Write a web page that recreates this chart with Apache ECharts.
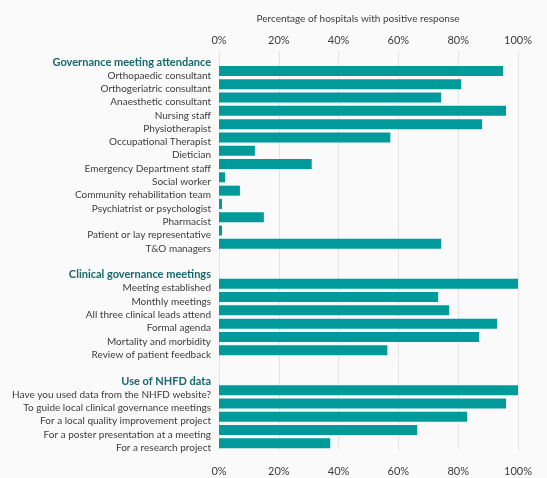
<!DOCTYPE html>
<html>
<head>
<meta charset="utf-8">
<script src="https://cdn.jsdelivr.net/npm/echarts@6/dist/echarts.min.js"></script>
<style>
  html, body { margin: 0; padding: 0; background: #fafafa; }
  #chart { width: 547px; height: 478px; }
</style>
</head>
<body>
<div id="chart"></div>
<script>
// section headers
const headers = ['Governance meeting attendance', 'Clinical governance meetings', 'Use of NHFD data'];

const attendance = [
    'Orthopaedic consultant', 'Orthogeriatric consultant', 'Anaesthetic consultant', 'Nursing staff',
    'Physiotherapist', 'Occupational Therapist', 'Dietician', 'Emergency Department staff', 'Social worker',
    'Community rehabilitation team', 'Psychiatrist or psychologist', 'Pharmacist',
    'Patient or lay representative', 'T&O managers'
];
const attendanceValues = [95, 81, 74.3, 96, 88, 57.3, 12, 31, 2, 7, 1, 15, 1, 74.3];

const meetings = [
    'Meeting established', 'Monthly meetings', 'All three clinical leads attend', 'Formal agenda',
    'Mortality and morbidity', 'Review of patient feedback'
];
const meetingValues = [100, 73.3, 77, 93, 87, 56.3];

const nhfd = [
    'Have you used data from the NHFD website?', 'To guide local clinical governance meetings',
    'For a local quality improvement project', 'For a poster presentation at a meeting', 'For a research project'
];
const nhfdValues = [100, 96, 83, 66.3, 37.2];

const xTicks = [0, 20, 40, 60, 80, 100];

// build category list: header, items, blank gap...
let cats = [], vals = []
function addSection(h, names, values, gap) {
    if (gap) { cats.push(' '.repeat(gap)); vals.push('-') }
    cats.push(h); vals.push('-')
    names.forEach((n, i) => { cats.push(n); vals.push(values[i]) })
}
addSection(headers[0], attendance, attendanceValues, 0)
addSection(headers[1], meetings, meetingValues, 1)
addSection(headers[2], nhfd, nhfdValues, 2)

const font = 'Lato'
const chart = echarts.init(document.getElementById('chart'));

function pctAxis(pos, margin, grid) {
    return {
        type: 'value',
        position: pos,
        min: xTicks[0],
        max: xTicks[xTicks.length - 1],
        interval: 20,
        axisLine: { show: false },
        axisTick: { show: false },
        axisLabel: {
            margin: margin,
            formatter: '{value}%',
            color: '#3c3c3c',
            fontFamily: font,
            fontSize: 11
        },
        splitLine: { show: grid, lineStyle: { color: '#e4e4e4', width: 1 } }
    }
}

chart.setOption({
    backgroundColor: '#fafafa',
    animation: false,
    title: {
        text: 'Percentage of hospitals with positive response',
        left: 353,
        textAlign: 'center',
        top: 9,
        textStyle: { fontFamily: font, fontSize: 10, fontWeight: 'normal', color: '#3c3c3c' }
    },
    grid: { left: 219, right: 29, top: 51, bottom: 28, containLabel: false, outerBoundsMode: 'none' },
    xAxis: [pctAxis('top', 5, true), pctAxis('bottom', 16, false)],
    yAxis: {
        type: 'category',
        inverse: true,
        data: cats,
        axisLine: { show: false },
        axisTick: { show: false },
        axisLabel: {
            margin: 8,
            interval: 0,
            padding: [9, 0, 0, 0],
            fontFamily: font,
            fontSize: 10,
            color: '#3c3c3c',
            formatter: function (v) {
                return headers.indexOf(v) >= 0 ? '{h|' + v + '}' : v
            },
            rich: {
                h: { fontFamily: font, fontSize: 11, fontWeight: 'bold', color: '#17676c' }
            }
        }
    },
    series: [{
        type: 'bar',
        data: vals,
        barWidth: 10,
        itemStyle: { color: '#009a9a' }
    }]
});
</script>
</body>
</html>
